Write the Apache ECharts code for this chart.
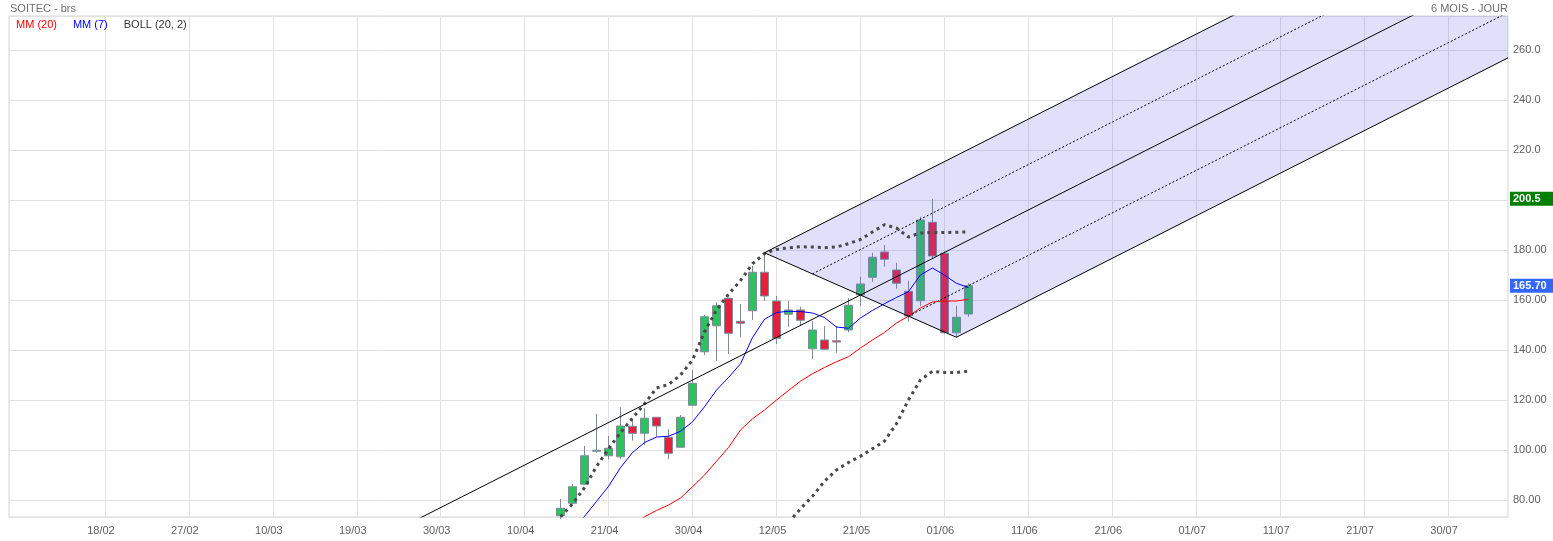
<!DOCTYPE html>
<html>
<head>
<meta charset="utf-8">
<script src="https://cdn.jsdelivr.net/npm/echarts@6/dist/echarts.min.js"></script>
<style>
  html, body { margin: 0; padding: 0; background: #fff; }
  #chart { width: 1553px; height: 541px; }
</style>
</head>
<body>
<div id="chart"></div>
<script>
// x slots: one per trading day, labels every 7 slots
const slotCount = 126
const firstTickSlot = 8
const tickStep = 7
const tickLabels = ['18/02', '27/02', '10/03', '19/03', '30/03', '10/04', '21/04', '30/04', '12/05',
  '21/05', '01/06', '11/06', '21/06', '01/07', '11/07', '21/07', '30/07']

// candles [open, close, low, high], first one at slot 46
const candleStart = 46
const candles = [
  [73.7, 76.7, 72.5, 80.4], [78.7, 85.3, 78.4, 86.4], [86.3, 97.7, 86.0, 101.6], [99.5, 99.9, 98.9, 114.4],
  [97.7, 100.7, 96.3, 105.6], [97.3, 109.6, 96.3, 117.1], [109.5, 106.7, 103.7, 112.3], [106.7, 112.7, 102.0, 116.7],
  [113.1, 109.6, 105.3, 113.1], [105.1, 98.7, 96.3, 108.3], [101.1, 113.1, 101.0, 114.0], [117.9, 126.7, 117.9, 132.0],
  [139.3, 153.3, 138.0, 154.0], [149.7, 157.7, 135.7, 159.1], [160.7, 146.7, 138.4, 161.0], [151.5, 150.7, 145.1, 158.4],
  [155.7, 171.1, 152.0, 173.6], [171.1, 161.6, 159.6, 178.9], [159.6, 144.7, 142.4, 161.6], [154.3, 156.0, 149.3, 159.6],
  [156.0, 151.9, 149.6, 157.3], [140.5, 148.0, 136.3, 151.7], [144.0, 140.3, 140.0, 149.6], [143.7, 143.2, 138.9, 149.6],
  [148.0, 157.9, 147.1, 160.8], [162.0, 166.4, 157.6, 169.3], [169.1, 177.1, 167.3, 178.9], [179.2, 176.3, 173.3, 182.0],
  [172.0, 166.7, 164.5, 174.9], [163.5, 153.6, 151.3, 167.7], [159.7, 192.0, 157.6, 193.3], [191.1, 177.6, 176.7, 200.5],
  [178.7, 146.9, 146.5, 179.5], [146.9, 153.1, 145.1, 157.7], [154.4, 165.7, 153.3, 166.7]
]

// MM (7)
const mm7Start = 47
const mm7 = [68.0, 73.5, 79.5, 85.5, 93.0, 99.0, 103.0, 105.2, 105.5, 107.5, 111.3, 117.3, 124.0, 129.0, 134.5,
  145.0, 152.3, 155.0, 155.5, 155.4, 154.8, 153.0, 149.2, 148.7, 152.8, 155.8, 158.5, 161.0, 163.3, 170.0,
  172.8, 170.0, 166.7, 165.0]

// MM (20)
const mm20Start = 52
const mm20 = [70.0, 73.3, 75.8, 78.0, 80.8, 85.3, 90.0, 95.5, 101.0, 108.0, 112.5, 116.0, 120.0, 123.8, 127.5,
  130.5, 133.0, 135.3, 137.3, 140.8, 144.0, 147.0, 150.8, 153.5, 156.8, 159.2, 159.6, 159.6, 160.3]

// BOLL (20, 2) bands
const bollUpperStart = 46
const bollUpper = [73.3, 78.5, 85.0, 93.5, 100.5, 107.0, 112.8, 118.5, 124.8, 126.2, 130.0, 136.0, 147.3, 156.0,
  162.3, 167.8, 174.5, 178.6, 180.2, 180.9, 181.3, 181.2, 180.9, 181.2, 182.5, 184.2, 187.2, 190.1, 188.8,
  185.2, 186.8, 187.0, 187.0, 187.1, 187.3]
const bollLowerStart = 65
const bollLower = [71.0, 76.5, 81.5, 87.5, 92.0, 95.0, 97.5, 100.5, 103.5, 110.5, 120.0, 128.0, 131.5, 131.0,
  131.0, 131.5]

// pitchfork pivots [slot, price]: A (off chart), B, C
const pitchforkPivots = [[30, 62.4], [63, 178.9], [79, 145.1]]

// price tags on the axis
const priceTags = [
  { value: 200.5, color: '#008000' },
  { value: 165.7, color: '#3366ff' }
]

const fmt = (v) => (v > 200 ? v.toFixed(1) : v.toFixed(2))
const toPoints = (start, vals) => vals.map((v, k) => [start + k, v])
const isTick = (i) => i >= firstTickSlot && (i - firstTickSlot) % tickStep === 0 &&
  (i - firstTickSlot) / tickStep < tickLabels.length

// pitchfork geometry
const [pA, pB, pC] = pitchforkPivots
const pM = [(pB[0] + pC[0]) / 2, (pB[1] + pC[1]) / 2]
const slope = (pM[1] - pA[1]) / (pM[0] - pA[0])
const lastSlot = slotCount - 1
const ray = (p) => [p, [lastSlot, p[1] + slope * (lastSlot - p[0])]]
const q1 = [(pB[0] + pM[0]) / 2, (pB[1] + pM[1]) / 2]
const q2 = [(pM[0] + pC[0]) / 2, (pM[1] + pC[1]) / 2]

const fanBase = []
const fanBand = []
for (let i = pB[0]; i <= lastSlot; i++) {
  const upper = pB[1] + slope * (i - pB[0])
  const lower = i <= pC[0]
    ? pB[1] + (pC[1] - pB[1]) * (i - pB[0]) / (pC[0] - pB[0])
    : pC[1] + slope * (i - pC[0])
  fanBase.push([i, lower])
  fanBand.push([i, upper - lower])
}

const font = "'Liberation Sans', Arial, sans-serif"

const blackLine = (data, dashed) => ({
  type: 'line',
  data,
  symbol: 'none',
  silent: true,
  z: 5,
  lineStyle: { color: '#000', width: 1, type: dashed ? [2, 2] : 'solid' }
})

const chart = echarts.init(document.getElementById('chart'))

chart.setOption({
  animation: false,
  textStyle: { fontFamily: font },
  title: [
    { text: 'SOITEC - brs', left: 10, top: 3, padding: 0, textStyle: { fontSize: 11, color: '#707070', fontWeight: 'normal', fontFamily: font } },
    { text: '6 MOIS - JOUR', right: 45, top: 3, padding: 0, textStyle: { fontSize: 11, color: '#707070', fontWeight: 'normal', fontFamily: font } }
  ],
  legend: {
    left: 10,
    top: 19,
    padding: 0,
    itemWidth: 0,
    itemHeight: 0,
    itemGap: 10,
    selectedMode: false,
    itemStyle: { opacity: 0 },
    lineStyle: { opacity: 0 },
    textStyle: { fontSize: 11, fontFamily: font },
    data: [
      { name: 'MM (20)', textStyle: { color: '#ff0000' } },
      { name: 'MM (7)', textStyle: { color: '#0000ff' } },
      { name: 'BOLL (20, 2)', textStyle: { color: '#333' } }
    ]
  },
  grid: {
    left: 9,
    right: 45,
    top: 16,
    bottom: 24,
    show: true,
    borderColor: '#d4d4d4',
    borderWidth: 1
  },
  xAxis: {
    type: 'category',
    boundaryGap: false,
    data: Array.from({ length: slotCount }, (_, i) => String(i)),
    axisLine: { show: false },
    axisTick: { show: false },
    axisLabel: {
      interval: (i) => isTick(i),
      formatter: (val, i) => tickLabels[(i - firstTickSlot) / tickStep],
      color: '#606060',
      fontSize: 11,
      fontFamily: font,
      margin: 8,
      padding: [0, 8, 0, 0]
    },
    splitLine: {
      show: true,
      interval: (i) => isTick(i),
      lineStyle: { color: '#e2e2e2' }
    }
  },
  yAxis: {
    type: 'value',
    position: 'right',
    min: 73.2,
    max: 273.6,
    splitNumber: 10,
    scale: true,
    axisLine: { show: false },
    axisTick: { show: false },
    axisLabel: {
      showMinLabel: false,
      showMaxLabel: false,
      formatter: fmt,
      color: '#606060',
      fontSize: 11,
      fontFamily: font,
      margin: 5
    },
    splitLine: { lineStyle: { color: '#e2e2e2' } }
  },
  series: [
    {
      type: 'candlestick',
      data: candles.map((c, k) => [candleStart + k, ...c]),
      encode: { x: 0, y: [1, 2, 3, 4] },
      barWidth: 9,
      z: 2,
      itemStyle: {
        color: '#2ec25e',
        color0: '#ed1c3a',
        borderColor: '#7c8c9b',
        borderColor0: '#7c8c9b',
        borderWidth: 1
      }
    },
    {
      type: 'line',
      data: fanBase,
      stack: 'fan',
      symbol: 'none',
      silent: true,
      z: 3,
      lineStyle: { width: 0, opacity: 0 }
    },
    {
      type: 'line',
      data: fanBand,
      stack: 'fan',
      symbol: 'none',
      silent: true,
      z: 3,
      lineStyle: { width: 0, opacity: 0 },
      areaStyle: { color: 'rgba(100,100,230,0.2)', opacity: 1 }
    },
    {
      name: 'MM (20)',
      type: 'line',
      data: toPoints(mm20Start, mm20),
      symbol: 'none',
      z: 4,
      lineStyle: { color: '#ff0000', width: 1 },
      itemStyle: { color: '#ff0000' }
    },
    {
      name: 'MM (7)',
      type: 'line',
      data: toPoints(mm7Start, mm7),
      symbol: 'none',
      z: 4,
      lineStyle: { color: '#0000ff', width: 1 },
      itemStyle: { color: '#0000ff' }
    },
    {
      name: 'BOLL (20, 2)',
      type: 'line',
      data: toPoints(bollUpperStart, bollUpper),
      symbol: 'none',
      z: 4,
      lineStyle: { color: '#484848', width: 3, type: [3, 4] },
      itemStyle: { color: '#484848' }
    },
    {
      name: 'BOLL (20, 2)',
      type: 'line',
      data: toPoints(bollLowerStart, bollLower),
      symbol: 'none',
      z: 4,
      lineStyle: { color: '#484848', width: 3, type: [3, 4] },
      itemStyle: { color: '#484848' }
    },
    blackLine(ray(pA)),
    blackLine(ray(pB)),
    blackLine(ray(pC)),
    blackLine([pB, pC]),
    blackLine(ray(q1), true),
    blackLine(ray(q2), true),
    {
      // price tags drawn at the right end of invisible horizontal lines
      type: 'line',
      data: [],
      silent: true,
      z: 6,
      markLine: {
        silent: true,
        symbol: 'none',
        animation: false,
        lineStyle: { color: 'rgba(0,0,0,0)', width: 0 },
        label: {
          show: true,
          position: 'end',
          distance: 2,
          formatter: (p) => fmt(p.value),
          color: '#fff',
          fontWeight: 'bold',
          fontSize: 11,
          fontFamily: font,
          width: 40,
          padding: [2, 3, 1, 3]
        },
        data: priceTags.map((t) => ({ yAxis: t.value, label: { backgroundColor: t.color } }))
      }
    }
  ]
})
</script>
</body>
</html>
